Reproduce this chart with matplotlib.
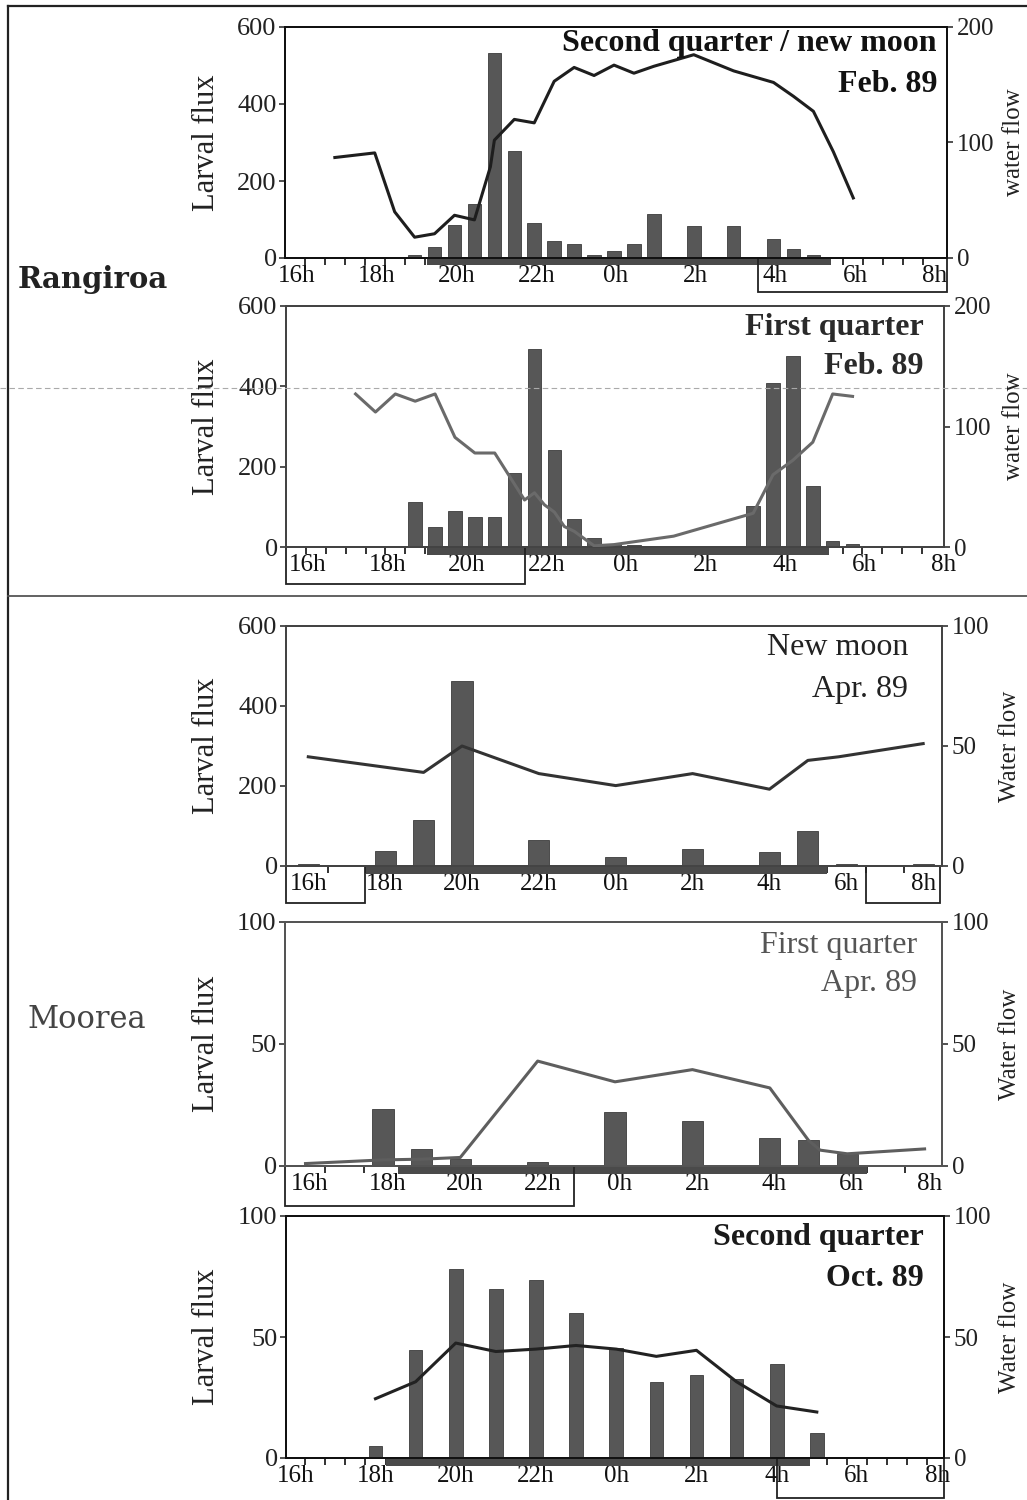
import matplotlib
matplotlib.use("Agg")
import matplotlib.pyplot as plt
import matplotlib.transforms as mtransforms
from matplotlib.patches import Rectangle
from matplotlib.lines import Line2D
import numpy as np

# ---------------- data ----------------
hour_ticks = [16, 18, 20, 22, 24, 26, 28, 30, 32]
hour_labels = ['16h', '18h', '20h', '22h', '0h', '2h', '4h', '6h', '8h']

# Panel 1: Rangiroa, second quarter / new moon, Feb. 89
p1_bar_hours = [19.0, 19.5, 20.0, 20.5, 21.0, 21.5, 22.0, 22.5, 23.0, 23.5, 24.0, 24.5, 25.0, 26.0, 27.0, 28.0, 28.5, 29.0]
p1_bar_flux = [8, 28, 86, 140, 533, 278, 92, 45, 36, 9, 19, 36, 113, 84, 84, 50, 24, 9]
p1_line_hours = [17.0, 18.0, 18.5, 19.0, 19.5, 20.0, 20.5, 20.9, 21.0, 21.5, 22.0, 22.5, 23.0, 23.5, 24.0, 24.5, 25.0, 26.0, 27.0, 28.0, 28.5, 29.0, 29.5, 30.0]
p1_line_flow = [87, 91, 40, 18, 21, 37, 33, 79, 102, 120, 117, 153, 165, 158, 167, 160, 166, 176, 162, 152, 140, 127, 92, 52]
p1_night = (19.3, 29.45)
p1_day = [(27.6, 32.35)]

# Panel 2: Rangiroa, first quarter, Feb. 89
p2_bar_hours = [19.0, 19.5, 20.0, 20.5, 21.0, 21.5, 22.0, 22.5, 23.0, 23.5, 24.0, 24.5, 27.5, 28.0, 28.5, 29.0, 29.5, 30.0]
p2_bar_flux = [111, 49, 89, 75, 75, 184, 494, 242, 70, 22, 8, 4, 103, 409, 475, 151, 14, 8]
p2_line_hours = [17.5, 18.0, 18.5, 19.0, 19.5, 20.0, 20.5, 21.0, 21.5, 21.75, 22.0, 22.25, 22.5, 22.75, 23.0, 23.5, 24.0, 25.5, 27.5, 28.0, 28.5, 29.0, 29.5, 30.0]
p2_line_flow = [127, 112, 127, 121, 127, 91, 78, 78, 52, 39, 45, 35, 29, 17, 13, 1, 2, 9, 28, 60, 72, 87, 127, 125]
p2_night = (19.3, 29.4)
p2_day = [(15.75, 21.76)]

# Panel 3: Moorea, new moon, Apr. 89
p3_bar_hours = [16, 18, 19, 20, 22, 24, 26, 28, 29, 30, 32]
p3_bar_flux = [4, 37, 115, 462, 65, 23, 42, 36, 88, 5, 5]
p3_line_hours = [16, 19, 20, 22, 24, 26, 28, 29, 29.8, 32]
p3_line_flow = [45.5, 39, 50, 38.5, 33.5, 38.5, 32, 44, 45.5, 51]
p3_night = (17.5, 29.5)
p3_day = [(15.42, 17.47), (30.5, 32.43)]

# Panel 4: Moorea, first quarter, Apr. 89
p4_bar_hours = [18, 19, 20, 22, 24, 26, 28, 29, 30]
p4_bar_flux = [23.5, 7, 3, 1.5, 22, 18.5, 11.5, 10.5, 5]
p4_line_hours = [16, 18, 19, 20, 22, 24, 26, 28, 29, 29.3, 30, 32]
p4_line_flow = [1, 2.5, 2.8, 3.5, 43, 34.5, 39.5, 32, 10.5, 6.5, 5, 7]
p4_night = (18.4, 30.5)
p4_day = [(15.47, 22.93)]

# Panel 5: Moorea, second quarter, Oct. 89
p5_bar_hours = [18, 19, 20, 21, 22, 23, 24, 25, 26, 27, 28, 29]
p5_bar_flux = [5, 44.5, 78, 70, 73.5, 60, 45.5, 31.5, 34.5, 32.5, 39, 10.5]
p5_line_hours = [18, 19, 20, 21, 22, 23, 24, 25, 26, 27, 28, 29]
p5_line_flow = [24.5, 31.5, 47.5, 44, 45, 46.5, 45, 42, 44.5, 31.5, 21.5, 19]
p5_night = (18.27, 28.83)
p5_day = [(28.0, 32.17)]

# ---------------- figure ----------------
W, H = 1027, 1500
fig = plt.figure(figsize=(W / 100, H / 100), dpi=100)
fig.patch.set_facecolor('white')

SERIF_T = 'Liberation Serif'
SERIF_C = 'DejaVu Serif'


def rect_px(left, right, top, bottom):
    return [left / W, 1 - bottom / H, (right - left) / W, (bottom - top) / H]


def panel(pos, xlim, bars_x, bars_y, bar_w, line_x, line_y, lmax, lticks, rmax, rticks,
          minor_ticks, label_shift, night, days, box_depth, title, sub, tcolor, tweight,
          title_xy, line_color, spine_color, right_label, rlabel_x):
    ax = fig.add_axes(pos)
    ax.set_xlim(*xlim)
    ax.set_ylim(0, lmax)
    ax.bar(bars_x, bars_y, width=bar_w, color='#575757', edgecolor='#3c3c3c',
           linewidth=0.6, zorder=3)
    ax.set_yticks(lticks)
    ax.set_yticklabels([str(t) for t in lticks], family=SERIF_T, fontsize=19, color='#222')
    ax.set_xticks([h + label_shift for h in hour_ticks])
    ax.set_xticklabels(hour_labels, family=SERIF_T, fontsize=18, color='#111')
    ax.set_xticks(minor_ticks, minor=True)
    ax.tick_params(axis='x', which='major', length=0, pad=5)
    ax.tick_params(axis='x', which='minor', length=5, width=1.3, direction='out', color='#222')
    ax.tick_params(axis='y', length=4, width=1.2, direction='out', pad=2, color='#333')
    for s in ax.spines.values():
        s.set_color(spine_color)
        s.set_linewidth(1.4)

    tr = mtransforms.blended_transform_factory(ax.transData, ax.transAxes)
    ax.add_patch(Rectangle((night[0], -0.032), night[1] - night[0], 0.032,
                           transform=tr, clip_on=False, facecolor='#4a4a4a',
                           edgecolor='none', zorder=4))
    for d0, d1 in days:
        ax.add_patch(Rectangle((d0, -box_depth), d1 - d0, box_depth, transform=tr,
                               clip_on=False, facecolor='none', edgecolor='#222',
                               linewidth=1.3, zorder=5))

    ax2 = ax.twinx()
    ax2.set_ylim(0, rmax)
    ax2.plot(line_x, line_y, color=line_color, linewidth=2.2, zorder=6)
    ax2.set_yticks(rticks)
    ax2.set_yticklabels([str(t) for t in rticks], family=SERIF_T, fontsize=18, color='#222')
    ax2.tick_params(axis='y', length=4, width=1.2, direction='out', pad=3, color='#333')
    for s in ax2.spines.values():
        s.set_color(spine_color)
        s.set_linewidth(1.4)

    # labels
    l, b, w, h = pos
    fig.text(207 / W, b + h / 2, 'Larval flux', rotation=90, ha='center', va='center',
             family=SERIF_T, fontsize=22, color='#222')
    fig.text(rlabel_x / W, b + h / 2, right_label, rotation=90, ha='center', va='center',
             family=SERIF_T, fontsize=18, color='#222')
    tx, ty1, ty2 = title_xy
    fig.text(tx / W, 1 - ty1 / H, title, ha='right', va='center', family=SERIF_T,
             fontsize=23, fontweight=tweight, color=tcolor)
    fig.text(tx / W, 1 - ty2 / H, sub, ha='right', va='center', family=SERIF_T,
             fontsize=23, fontweight=tweight, color=tcolor)
    return ax


half_minor = list(np.arange(16.25, 32.1, 0.5))
hour_minor = list(np.arange(16.5, 32.1, 1.0))

panel(rect_px(285, 947, 27, 258), (15.75, 32.35), p1_bar_hours, p1_bar_flux, 0.34,
      p1_line_hours, p1_line_flow, 600, [0, 200, 400, 600], 200, [0, 100, 200],
      half_minor, 0.05, p1_night, p1_day, 0.147,
      'Second quarter / new moon', 'Feb. 89', '#111', 'bold', (937, 43, 84),
      '#1e1e1e', '#111', 'water flow', 1014)

panel(rect_px(286, 944, 306, 547), (15.75, 32.3), p2_bar_hours, p2_bar_flux, 0.34,
      p2_line_hours, p2_line_flow, 600, [0, 200, 400, 600], 200, [0, 100, 200],
      half_minor, 0.3, p2_night, p2_day, 0.153,
      'First quarter', 'Feb. 89', '#2a2a2a', 'bold', (924, 328, 367),
      '#6a6a6a', '#444', 'water flow', 1014)

panel(rect_px(286, 942, 626, 866), (15.42, 32.49), p3_bar_hours, p3_bar_flux, 0.55,
      p3_line_hours, p3_line_flow, 600, [0, 200, 400, 600], 100, [0, 50, 100],
      hour_minor, 0.0, p3_night, p3_day, 0.153,
      'New moon', 'Apr. 89', '#222', 'normal', (908, 648, 690),
      '#333333', '#444', 'Water flow', 1010)

panel(rect_px(285, 942, 922, 1166), (15.47, 32.45), p4_bar_hours, p4_bar_flux, 0.55,
      p4_line_hours, p4_line_flow, 100, [0, 50, 100], 100, [0, 50, 100],
      hour_minor, 0.12, p4_night, p4_day, 0.164,
      'First quarter', 'Apr. 89', '#555', 'normal', (917, 945, 984),
      '#5e5e5e', '#555', 'Water flow', 1010)

panel(rect_px(286, 944, 1216, 1458), (15.77, 32.17), p5_bar_hours, p5_bar_flux, 0.34,
      p5_line_hours, p5_line_flow, 100, [0, 50, 100], 100, [0, 50, 100],
      half_minor, 0.0, p5_night, p5_day, 0.165,
      'Second quarter', 'Oct. 89', '#1a1a1a', 'bold', (924, 1237, 1278),
      '#222222', '#111', 'Water flow', 1010)

# site labels
fig.text(93 / W, 1 - 280 / H, 'Rangiroa', ha='center', va='center', family=SERIF_C,
         fontsize=21, fontweight='bold', color='#222')
fig.text(87 / W, 1 - 1020 / H, 'Moorea', ha='center', va='center', family=SERIF_C,
         fontsize=22, color='#444')

# frame lines of the plate
def fline(x0, y0, x1, y1, **kw):
    fig.add_artist(Line2D([x0 / W, x1 / W], [1 - y0 / H, 1 - y1 / H],
                          transform=fig.transFigure, **kw))

fline(8, 6, 8, 1500, color='#222', linewidth=1.6)
fline(8, 6, 1027, 6, color='#222', linewidth=1.6)
fline(8, 596, 1027, 596, color='#555', linewidth=1.3)
fline(0, 388, 1027, 388, color='#aaaaaa', linewidth=0.8, linestyle=(0, (5, 3)))

fig.savefig('out.png', dpi=100, facecolor='white')
